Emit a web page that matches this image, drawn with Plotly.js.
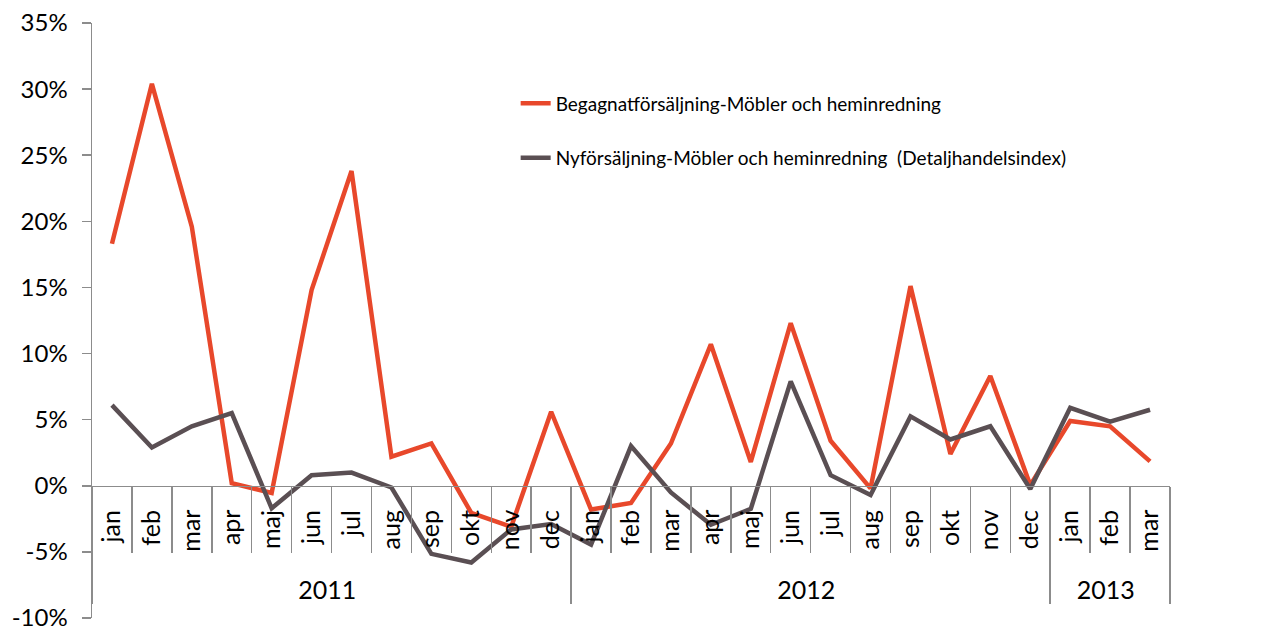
<!DOCTYPE html>
<html>
<head>
<meta charset="utf-8">
<script src="https://cdn.plot.ly/plotly-3.0.1.min.js"></script>
<style>html,body{margin:0;padding:0;background:#fff;}#chart{width:1266px;height:630px;}</style>
</head>
<body>
<div id="chart"></div>
<script>
const years = ["2011","2011","2011","2011","2011","2011","2011","2011","2011","2011","2011","2011",
               "2012","2012","2012","2012","2012","2012","2012","2012","2012","2012","2012","2012",
               "2013","2013","2013"];
const months = ["jan","feb","mar","apr","maj","jun","jul","aug","sep","okt","nov","dec",
                "jan","feb","mar","apr","maj","jun","jul","aug","sep","okt","nov","dec",
                "jan","feb","mar"];
const begagnat = [18.3,30.4,19.6,0.2,-0.55,14.8,23.8,2.2,3.2,-2.05,-3.1,5.6,
                  -1.8,-1.3,3.2,10.7,1.8,12.3,3.4,-0.2,15.1,2.4,8.3,0.05,
                  4.9,4.5,1.85];
const nyforsaljning = [6.1,2.9,4.5,5.5,-1.7,0.8,1.0,-0.13,-5.15,-5.8,-3.3,-2.9,
                       -4.45,3.0,-0.5,-2.95,-1.75,7.9,0.8,-0.7,5.25,3.5,4.5,-0.25,
                       5.9,4.85,5.75];
const yTickVals = [-10,-5,0,5,10,15,20,25,30,35];
const yTickText = ["-10%","-5%","0%","5%","10%","15%","20%","25%","30%","35%"];
const seriesNames = ["Begagnatförsäljning-Möbler och heminredning",
                     "Nyförsäljning-Möbler och heminredning  (Detaljhandelsindex)"];

const FONT = "Lato, 'DejaVu Sans', sans-serif";
const traces = [
  {type:"scatter", mode:"lines", x:[years, months], y:begagnat, name:seriesNames[0],
   legendgroup:"a", line:{color:"#E8482B", width:4.5}},
  {type:"scatter", mode:"lines", x:[years, months], y:nyforsaljning, name:seriesNames[1],
   legendgroup:"b", line:{color:"#5A4F53", width:4.5}}
];
const layout = {
  width:1266, height:630,
  margin:{l:92, r:96, t:23, b:12},
  paper_bgcolor:"#fff", plot_bgcolor:"#fff",
  font:{family:FONT, size:22, color:"#000"},
  showlegend:true,
  legend:{x:0.393, y:0.897, xanchor:"left", yanchor:"top", bgcolor:"rgba(0,0,0,0)",
          font:{family:FONT, size:19, color:"#000"}, traceorder:"grouped",
          tracegroupgap:27, itemwidth:30},
  xaxis:{type:"multicategory", anchor:"free", position:10/45, range:[-0.5,26.5],
         showline:true, linecolor:"#8c8c8c", linewidth:1.5,
         ticks:"outside", ticklen:66, tickcolor:"#8c8c8c", tickwidth:1.5,
         tickangle:-90, ticksuffix:"\u00a0\u00a0",
         tickfont:{family:FONT, size:25, color:"#000"},
         showdividers:true, dividercolor:"#8c8c8c", dividerwidth:1.5,
         showgrid:false, zeroline:false},
  yaxis:{range:[-10,35], tickvals:yTickVals, ticktext:yTickText,
         showgrid:false, zeroline:false, ticklabeloverflow:"allow",
         showline:true, linecolor:"#8c8c8c", linewidth:1.5,
         ticks:"outside", ticklen:9, tickcolor:"#8c8c8c", tickwidth:1.5,
         ticklabelstandoff:9,
         tickfont:{family:FONT, size:24, color:"#000"}}
};
Plotly.newPlot("chart", traces, layout, {displayModeBar:false, staticPlot:true});
</script>
</body>
</html>
